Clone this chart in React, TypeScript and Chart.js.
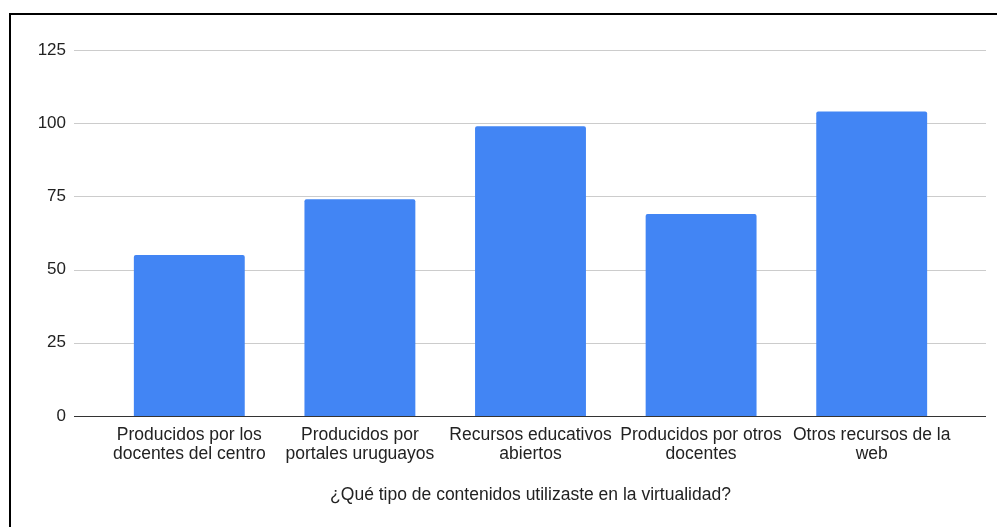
import React, { useEffect, useRef } from "react";
import { Chart, registerables } from "chart.js";

Chart.register(...registerables);

const categories: string[][] = [
  ["Producidos por los", "docentes del centro"],
  ["Producidos por", "portales uruguayos"],
  ["Recursos educativos", "abiertos"],
  ["Producidos por otros", "docentes"],
  ["Otros recursos de la", "web"],
];
const values: number[] = [55, 74, 99, 69, 104];
const yTicks: number[] = [0, 25, 50, 75, 100, 125];
const xTitle = "¿Qué tipo de contenidos utilizaste en la virtualidad?";

const FONT = "'Liberation Sans', Arial, sans-serif";

const gridPlugin = {
  id: "extGrid",
  beforeDatasetsDraw(chart: any) {
    const { ctx, chartArea, scales } = chart;
    const y = scales.y;
    ctx.save();
    ctx.lineWidth = 1;
    ctx.strokeStyle = "#cccccc";
    for (const v of yTicks) {
      if (v === 0) continue;
      const py = Math.round(y.getPixelForValue(v)) + 0.5;
      ctx.beginPath();
      ctx.moveTo(chartArea.left - 30, py);
      ctx.lineTo(chartArea.right + 29, py);
      ctx.stroke();
    }
    ctx.restore();
  },
  afterDatasetsDraw(chart: any) {
    const { ctx, chartArea, scales } = chart;
    const y = scales.y;
    ctx.save();
    ctx.lineWidth = 1;
    ctx.strokeStyle = "#333333";
    const py = Math.round(y.getPixelForValue(0)) + 0.5;
    ctx.beginPath();
    ctx.moveTo(chartArea.left - 30, py);
    ctx.lineTo(chartArea.right + 29, py);
    ctx.stroke();
    ctx.restore();
  },
};

export default function App() {
  const ref = useRef<HTMLCanvasElement | null>(null);
  useEffect(() => {
    if (!ref.current) return;
    const chart = new Chart(ref.current, {
      type: "bar",
      data: {
        labels: categories,
        datasets: [
          {
            data: values,
            backgroundColor: "#4285f4",
            borderRadius: 2,
            borderSkipped: "bottom",
            barPercentage: 0.65,
            categoryPercentage: 1,
          },
        ],
      },
      plugins: [gridPlugin],
      options: {
        animation: false,
        responsive: false,
        maintainAspectRatio: false,
        devicePixelRatio: 1,
        layout: { padding: { top: 50, right: 40, bottom: 0, left: 0 } },
        plugins: { legend: { display: false }, tooltip: { enabled: false } },
        scales: {
          x: {
            grid: { display: false, drawTicks: false },
            border: { display: false },
            ticks: {
              color: "#222222",
              padding: 9,
              maxRotation: 0,
              autoSkip: false,
              font: { family: FONT, size: 17.5, lineHeight: 1.12 },
            },
            title: {
              display: true,
              text: xTitle,
              color: "#222222",
              font: { family: FONT, size: 17.5 },
              padding: { top: 0, bottom: 21 },
            },
            afterFit(scale: any) {
              scale.height = 111;
            },
          },
          y: {
            min: 0,
            max: 125,
            grid: { display: false, drawTicks: false },
            border: { display: false },
            ticks: {
              stepSize: 25,
              color: "#222222",
              padding: 38,
              font: { family: FONT, size: 17 },
            },
            afterFit(scale: any) {
              scale.width = 104;
            },
          },
        },
      },
    });
    return () => chart.destroy();
  }, []);

  return (
    <div style={{ position: "fixed", left: 0, top: 0, width: 997, height: 527, background: "#fff", overflow: "hidden" }}>
      <div
        style={{
          position: "absolute",
          left: 9,
          top: 13,
          width: 1100,
          height: 700,
          border: "2px solid #000",
          boxSizing: "border-box",
        }}
      />
      <canvas ref={ref} width={997} height={527} style={{ position: "absolute", left: 0, top: 0, width: 997, height: 527 }} />
    </div>
  );
}
